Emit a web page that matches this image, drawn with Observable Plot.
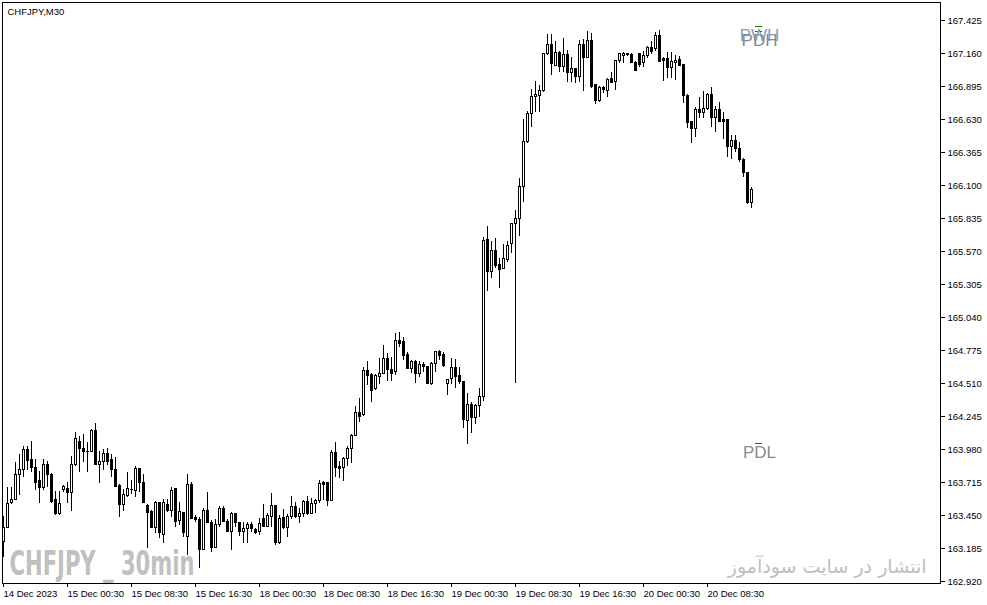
<!DOCTYPE html>
<html><head><meta charset="utf-8">
<script src="https://cdn.jsdelivr.net/npm/d3@7"></script>
<script src="https://cdn.jsdelivr.net/npm/@observablehq/plot@0.6"></script>
<style>
html,body{margin:0;padding:0;background:#fff;}
#chart{width:987px;height:605px;overflow:hidden;}
</style></head><body><div id="chart"></div>
<script>
const symbolTitle = "CHFJPY,M30";
const watermarkLeft = "CHFJPY _ 30min";
const watermarkRight = "انتشار در سایت سودآموز";

const openP = [163.238,163.350,163.551,163.575,163.776,163.816,163.976,163.896,163.832,163.735,
163.671,163.856,163.776,163.575,163.470,163.655,163.663,163.631,163.856,164.041,
163.992,163.960,163.960,164.129,163.856,163.880,163.944,163.896,163.816,163.687,
163.535,163.607,163.655,163.647,163.824,163.719,163.527,163.486,163.350,163.551,
163.294,163.535,163.494,163.663,163.406,163.478,163.278,163.695,163.430,163.414,
163.173,163.494,163.390,163.190,163.374,163.510,163.398,163.318,163.470,163.390,
163.318,163.342,163.374,163.334,163.318,163.422,163.358,163.438,163.527,163.230,
163.430,163.350,163.438,163.519,163.438,163.470,163.559,163.470,163.543,163.567,
163.711,163.711,163.567,163.952,163.840,163.832,163.904,163.992,164.089,164.281,
164.265,164.611,164.579,164.466,164.563,164.587,164.707,164.619,164.603,164.852,
164.844,164.739,164.627,164.683,164.587,164.659,164.643,164.514,164.667,164.763,
164.739,164.514,164.554,164.635,164.571,164.530,164.209,164.338,164.233,164.330,
164.402,165.663,165.406,165.582,165.462,165.430,165.502,165.631,165.791,165.831,
166.088,166.450,166.675,166.811,166.819,166.859,167.156,167.229,167.060,167.172,
167.052,167.148,167.004,167.036,166.972,167.229,167.124,167.261,166.915,166.779,
166.883,166.859,166.956,166.932,167.100,167.140,167.148,167.148,167.084,167.164,
167.084,167.140,167.205,167.197,167.301,167.116,167.116,167.044,167.084,167.108,
167.068,166.819,166.610,166.554,166.707,166.683,166.715,166.827,166.650,166.707,
166.626,166.626,166.417,166.458,166.401,166.305,166.201,165.960];

const highP = [163.438,163.671,163.671,163.872,163.936,164.001,164.001,164.041,163.896,163.800,
163.896,163.880,163.784,163.639,163.639,163.687,163.719,163.920,164.113,164.081,
164.097,164.033,164.137,164.185,163.960,163.976,163.992,163.936,163.912,163.695,
163.655,163.792,163.735,163.840,163.824,163.776,163.535,163.494,163.559,163.551,
163.575,163.575,163.671,163.663,163.551,163.478,163.776,163.711,163.454,163.430,
163.510,163.631,163.406,163.414,163.519,163.519,163.414,163.478,163.470,163.390,
163.390,163.390,163.390,163.342,163.422,163.535,163.470,163.623,163.527,163.446,
163.502,163.462,163.599,163.551,163.510,163.567,163.599,163.583,163.575,163.735,
163.727,163.711,163.968,164.033,163.880,163.912,164.001,164.097,164.322,164.386,
164.635,164.683,164.587,164.579,164.707,164.819,164.747,164.715,164.908,164.916,
164.876,164.755,164.691,164.691,164.683,164.675,164.643,164.675,164.763,164.779,
164.755,164.546,164.707,164.699,164.635,164.530,164.426,164.354,164.338,164.466,
165.679,165.767,165.647,165.671,165.510,165.623,165.647,165.791,165.896,166.160,
166.626,166.691,166.867,166.932,166.907,167.164,167.309,167.309,167.253,167.180,
167.277,167.188,167.124,167.036,167.261,167.269,167.333,167.317,166.915,166.899,
166.891,166.956,167.004,167.100,167.164,167.172,167.164,167.164,167.092,167.164,
167.180,167.213,167.253,167.325,167.341,167.124,167.172,167.172,167.140,167.132,
167.068,166.827,166.610,166.723,166.803,166.851,166.835,166.883,166.731,166.763,
166.683,166.626,166.498,166.498,166.442,166.313,166.201,166.080];

const lowP = [163.117,163.350,163.543,163.575,163.615,163.760,163.816,163.800,163.655,163.551,
163.655,163.679,163.551,163.462,163.462,163.639,163.551,163.494,163.848,163.800,
163.880,163.800,163.960,163.856,163.711,163.816,163.856,163.760,163.679,163.438,
163.494,163.599,163.623,163.599,163.639,163.551,163.197,163.350,163.310,163.270,
163.230,163.486,163.438,163.358,163.374,163.278,163.133,163.422,163.398,163.029,
163.173,163.390,163.157,163.190,163.358,163.398,163.318,163.173,163.358,163.286,
163.230,163.230,163.318,163.302,163.294,163.358,163.358,163.358,163.214,163.222,
163.342,163.278,163.422,163.430,163.390,163.438,163.462,163.470,163.478,163.551,
163.575,163.527,163.567,163.760,163.752,163.735,163.848,163.872,164.089,164.201,
164.257,164.498,164.362,164.458,164.514,164.587,164.538,164.538,164.579,164.804,
164.699,164.627,164.595,164.522,164.563,164.603,164.514,164.498,164.603,164.699,
164.643,164.418,164.514,164.474,164.514,164.153,164.025,164.113,164.185,164.249,
164.370,165.253,165.358,165.438,165.277,165.430,165.486,165.558,164.522,165.695,
165.968,166.442,166.570,166.691,166.691,166.851,167.148,166.988,167.060,167.012,
167.012,166.932,166.932,166.924,166.932,166.859,167.124,166.883,166.755,166.771,
166.843,166.811,166.924,166.867,167.084,167.084,167.140,167.084,167.020,167.052,
167.052,167.124,167.164,167.188,167.092,166.940,166.964,166.964,166.948,167.060,
166.763,166.562,166.442,166.490,166.650,166.650,166.707,166.570,166.530,166.610,
166.474,166.329,166.313,166.377,166.289,166.169,165.952,165.920];

const closeP = [163.350,163.543,163.575,163.776,163.816,163.976,163.888,163.832,163.719,163.671,
163.856,163.776,163.559,163.470,163.543,163.679,163.631,163.856,164.065,163.992,
163.960,163.962,164.129,163.856,163.880,163.944,163.880,163.816,163.679,163.535,
163.615,163.663,163.657,163.824,163.719,163.551,163.478,163.350,163.551,163.310,
163.551,163.494,163.647,163.398,163.486,163.310,163.695,163.422,163.414,163.173,
163.494,163.390,163.190,163.374,163.510,163.398,163.318,163.470,163.390,163.318,
163.342,163.374,163.342,163.310,163.382,163.358,163.446,163.527,163.230,163.422,
163.350,163.438,163.519,163.438,163.470,163.559,163.470,163.543,163.567,163.703,
163.695,163.567,163.952,163.832,163.824,163.904,163.992,164.089,164.281,164.249,
164.611,164.571,164.450,164.571,164.587,164.707,164.619,164.587,164.852,164.828,
164.731,164.627,164.683,164.587,164.659,164.643,164.514,164.667,164.763,164.731,
164.651,164.546,164.635,164.563,164.530,164.217,164.338,164.233,164.330,164.402,
165.655,165.406,165.582,165.454,165.422,165.510,165.615,165.791,165.831,166.088,
166.450,166.675,166.811,166.827,166.859,167.164,167.229,167.076,167.172,167.052,
167.148,167.004,167.036,166.972,167.229,167.124,167.261,166.899,166.779,166.883,
166.867,166.948,166.924,167.100,167.164,167.164,167.156,167.084,167.020,167.068,
167.140,167.205,167.180,167.301,167.092,167.100,167.044,167.092,167.100,167.060,
166.819,166.602,166.554,166.707,166.683,166.715,166.827,166.650,166.707,166.610,
166.610,166.410,166.458,166.401,166.305,166.201,165.960,166.064];

const xTickBars = [0,16,32,48,64,80,96,112,128,144,160,176];
const xTickLabels = ["14 Dec 2023","15 Dec 00:30","15 Dec 08:30","15 Dec 16:30","18 Dec 00:30","18 Dec 08:30",
  "18 Dec 16:30","19 Dec 00:30","19 Dec 08:30","19 Dec 16:30","20 Dec 00:30","20 Dec 08:30"];
const yTicks = [167.425,167.160,166.895,166.630,166.365,166.100,165.835,165.570,165.305,
  165.040,164.775,164.510,164.245,163.980,163.715,163.450,163.185,162.920];

const levelNames = ["PWH","PDH","PDL"];
const levelPrices = [167.373,167.333,164.025];
const levelLineColors = ["#008000","#ff0000","#ff0000"];
const levelTextColors = ["#7f9fc4","#8a8a8a","#8a8a8a"];

const bars = openP.map((o,i)=>({i, o, h: highP[i], l: lowP[i], c: closeP[i], up: closeP[i] > o}));
const n = bars.length;
const levels = levelNames.map((name,k)=>({name, price: levelPrices[k], line: levelLineColors[k], color: levelTextColors[k]}));
const font = "'Liberation Sans', Arial, sans-serif";

const chart = Plot.plot({
  width: 987, height: 605,
  marginLeft: 2, marginRight: 47, marginTop: 2, marginBottom: 22,
  style: {fontFamily: font, fontSize: "9.5px", background: "#fff", color: "#000", overflow: "visible"},
  x: {domain: [-0.25, 234.25], axis: null},
  y: {domain: [162.903939, 167.569546], round: true, axis: null},
  marks: [
    Plot.text([watermarkLeft], {frameAnchor: "bottom-left", textAnchor: "start", lineAnchor: "top", dx: 7, dy: -32, fontSize: 33, fontWeight: "bold", fontFamily: "'DejaVu Sans Condensed', 'Liberation Sans Narrow', sans-serif", fill: "#c0c0c0"}),
    Plot.text([watermarkRight], {frameAnchor: "bottom-right", textAnchor: "end", lineAnchor: "middle", dx: -14, dy: -17, fontSize: 22, fontWeight: "normal", fontFamily: "'DejaVu Sans', sans-serif", fill: "#c0c0c0"}),
    Plot.ruleX(bars, {x: "i", y1: "h", y2: "l", stroke: "#000", insetBottom: -1}),
    Plot.rect(bars, {x1: d => d.i - 0.25, x2: d => d.i + 0.5, y1: "o", y2: "c", fill: "#000", insetBottom: -1}),
    Plot.rect(bars.filter(d => d.up), {x1: "i", x2: d => d.i + 0.25, y1: "o", y2: "c", fill: "#fff", insetTop: 1}),
    Plot.frame({stroke: "#000"}),
    Plot.axisY({anchor: "right", ticks: yTicks, tickFormat: d => d.toFixed(3), tickSize: 4, tickPadding: 3, label: null, fontSize: 9.5}),
    Plot.axisX({anchor: "bottom", ticks: xTickBars, tickFormat: d => xTickLabels[xTickBars.indexOf(d)], tickSize: 4, tickPadding: 3, textAnchor: "start", label: null, fontSize: 9.5}),
    Plot.text([symbolTitle], {frameAnchor: "top-left", textAnchor: "start", lineAnchor: "top", dx: 5, dy: 6, fontSize: 9.5, fill: "#000"}),
    Plot.ruleY(levels, {y: "price", x1: () => n, x2: () => n + 1.75, stroke: "line"}),
    Plot.text(levels, {x: () => n + 1, y: "price", text: "name", fill: "color", fontSize: 17, dy: 9.5, lineAnchor: "middle"})
  ]
});
document.getElementById("chart").appendChild(chart);
const svg = d3.select(chart);
svg.selectAll("text").each(function(){
  const t = this.textContent;
  if (t === watermarkLeft) d3.select(this).attr("textLength", 185).attr("lengthAdjust", "spacingAndGlyphs");
  if (t === watermarkRight) {
    const natural = this.getComputedTextLength();
    if (natural > 0) {
      const fs = Math.min(24, 22 * 199 / natural);
      d3.select(this).attr("font-size", fs);
    }
  }
});
</script></body></html>
